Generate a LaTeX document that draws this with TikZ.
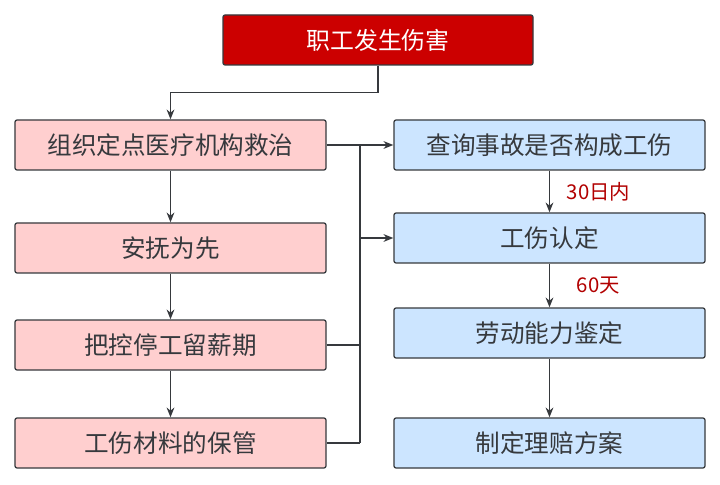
\documentclass[tikz,border=0pt]{standalone}
\usepackage{fontspec}
\newfontfamily\cjk{Noto Sans CJK SC}
\usetikzlibrary{positioning,arrows.meta}
\definecolor{topred}{HTML}{CC0000}
\definecolor{stepred}{HTML}{FFCFCF}
\definecolor{stepblue}{HTML}{CCE5FF}
\definecolor{edge}{HTML}{36393D}
\definecolor{lblred}{HTML}{B20000}
\tikzset{
  box/.style={draw=edge,line width=0.9pt,rounded corners=1.5pt,minimum width=7.775cm,minimum height=1.25cm,text=edge,font=\cjk\fontsize{17.5}{21}\selectfont},
  leftbox/.style={box,fill=stepred},
  rightbox/.style={box,fill=stepblue},
  arr/.style={draw=edge,line width=1.1pt,-{Stealth[length=7pt,width=5.5pt]}},
  wire/.style={draw=edge,line width=1.1pt},
  lbl/.style={text=lblred,font=\cjk\fontsize{14.5}{16}\selectfont}
}
\begin{document}
\begin{tikzpicture}
\useasboundingbox[fill=white] (0,0) rectangle (18,-12.125);
%top
\node[box,fill=topred,text=white,minimum width=7.75cm,font=\cjk\fontsize{17}{20}\selectfont] (harm) at (9.45,-1.0) {职工发生伤害};
%left column
\node[leftbox] (treat) at (4.2625,-3.625) {组织定点医疗机构救治};
\node[leftbox] (calm) at (4.2625,-6.2) {安抚为先};
\node[leftbox] (leave) at (4.2625,-8.625) {把控停工留薪期};
\node[leftbox] (files) at (4.2625,-11.075) {工伤材料的保管};
%right column
\node[rightbox] (check) at (13.7375,-3.625) {查询事故是否构成工伤};
\node[rightbox] (ident) at (13.7375,-5.95) {工伤认定};
\node[rightbox] (assess) at (13.7375,-8.325) {劳动能力鉴定};
\node[rightbox] (claim) at (13.7375,-11.075) {制定理赔方案};
%%%%%%%
\draw[arr] (harm.south) -- ++(0,-0.675) -| (treat.north);
\draw[arr] (treat) -- (calm);
\draw[arr] (calm) -- (leave);
\draw[arr] (leave) -- (files);

\coordinate (jtop) at (9,-3.625);
\coordinate (jbot) at (9,-11.075);
\draw[arr] (treat.east) -- (check.west);
\draw[wire] (jtop) -- (jbot);
\draw[wire] (leave.east) -- (leave.east -| jtop);
\draw[wire] (files.east) -- (files.east -| jtop);
\draw[arr] (jtop |- ident.west) -- (ident.west);

\draw[arr] (check) -- node[right=0.3cm,lbl] {30日内} (ident);
\draw[arr] (ident) -- node[right=0.55cm,lbl] {60天} (assess);
\draw[arr] (assess) -- (claim);
\end{tikzpicture}
\end{document}
